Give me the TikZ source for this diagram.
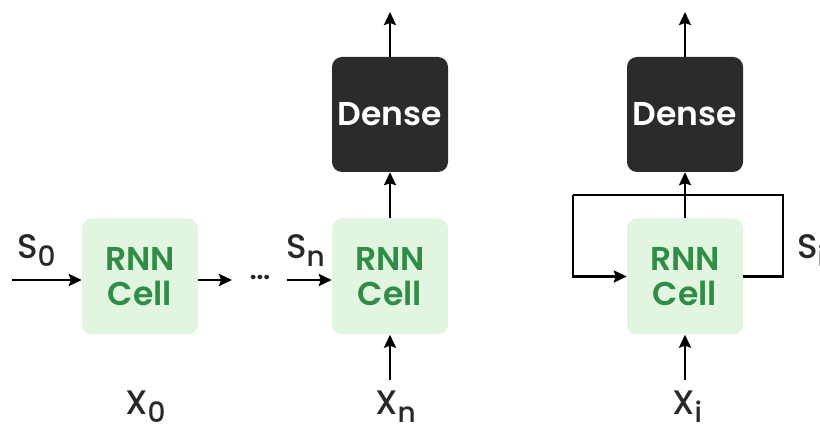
\documentclass[tikz,border=0pt]{standalone}
\usepackage{fontspec}
\setmainfont{Poppins}
\newfontfamily\semibold{Poppins SemiBold}
\newfontfamily\medium{Poppins Medium}
\usepackage{xcolor}
\usetikzlibrary{arrows.meta,positioning,calc}
\definecolor{cellgreen}{RGB}{226, 245, 224}
\definecolor{textgreen}{RGB}{47, 141, 70}
\definecolor{densegray}{RGB}{43, 43, 43}
\definecolor{labelgray}{RGB}{40, 40, 40}
\newcommand{\sublbl}[2]{#1\raisebox{-8pt}{\fontsize{28}{28}\selectfont #2}}

\begin{document}
\begin{tikzpicture}[x=1pt, y=-1pt,
    cell/.style={fill=cellgreen, rounded corners=10pt, minimum width=116pt, minimum height=116pt,
        text=textgreen, align=center, font=\fontsize{33}{35}\selectfont\semibold, inner sep=0pt},
    dense/.style={fill=densegray, rounded corners=10pt, minimum width=116pt, minimum height=115pt,
        text=white, font=\fontsize{33}{35}\selectfont\semibold, inner sep=0pt},
    conn/.style={line width=2.6pt, -{Stealth[length=13pt, width=12pt, inset=2pt]}},
    wire/.style={line width=2.6pt},
    lbl/.style={anchor=base west, inner sep=0pt, text=labelgray, font=\fontsize{34}{34}\selectfont\medium}]
    \useasboundingbox (0,0) rectangle (820,430);

    % RNN cells
    \node[cell] (c0) at (140,276.5) {RNN\\Cell};
    \node[cell] (c1) at (390,276.5) {RNN\\Cell};
    \node[cell] (c2) at (685,276.5) {RNN\\Cell};

    % Dense layers
    \node[dense] (d1) at (390,114.5) {Dense};
    \node[dense] (d2) at (685,114.5) {Dense};

    % Free ends
    \coordinate (s0in) at (12,280);
    \coordinate (c0out) at (232,280);
    \coordinate (sn) at (287,280);
    \coordinate (top1) at (390,12);
    \coordinate (top2) at (685,12);
    \coordinate (x1) at (390,380);
    \coordinate (x2) at (685,380);
    \coordinate (loopR) at (783,195);
    \coordinate (loopL) at (573,195);

    % Unrolled chain
    \draw[conn] (s0in) -- (s0in -| c0.west);
    \draw[conn] (c0.east |- c0out) -- (c0out);
    \node[font=\fontsize{24}{24}\selectfont\bfseries, text=labelgray] (dots) at (260,277) {...};
    \draw[conn] (sn) -- (sn -| c1.west);
    \draw[conn] (c1.north) -- (d1.south);
    \draw[conn] (d1.north) -- (top1);
    \draw[conn] (x1) -- (c1.south);

    % Folded cell with loop
    \draw[wire] (c2.east) -| (loopR) -- (loopL);
    \draw[conn] (loopL) |- (c2.west);
    \draw[conn] (c2.north) -- (d2.south);
    \draw[conn] (d2.north) -- (top2);
    \draw[conn] (x2) -- (c2.south);

    % Labels
    \node[lbl] (ls0) at (17,259) {\sublbl{S}{0}};
    \node[lbl] (lsn) at (286,259) {\sublbl{S}{n}};
    \node[lbl] (lsi) at (797,259) {\sublbl{S}{i}};
    \node[lbl] (lx0) at (125,415) {\sublbl{X}{0}};
    \node[lbl] (lxn) at (375,415) {\sublbl{X}{n}};
    \node[lbl] (lxi) at (672,415) {\sublbl{X}{i}};
\end{tikzpicture}
\end{document}
